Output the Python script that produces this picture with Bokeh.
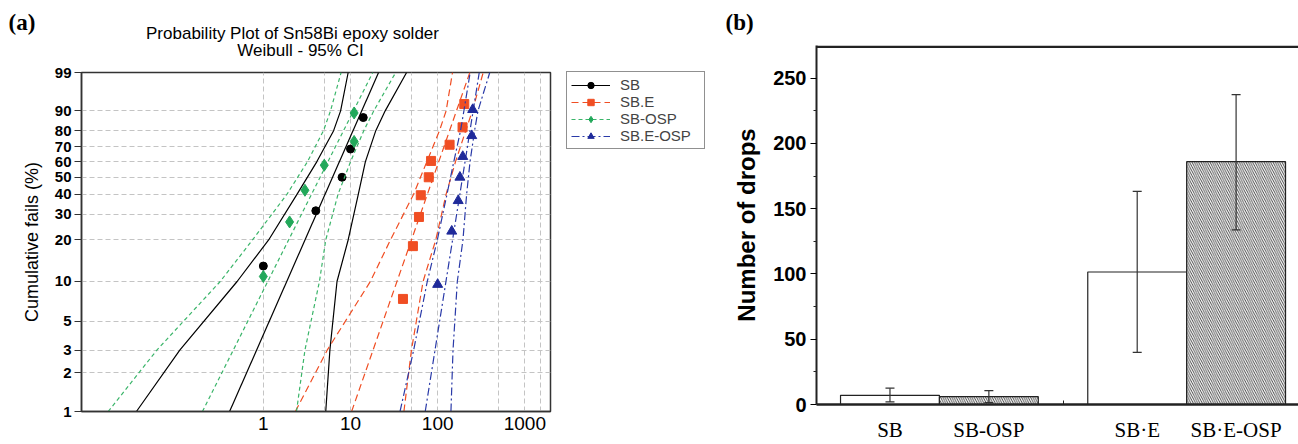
import math
from bokeh.plotting import figure
from bokeh.layouts import row, column
from bokeh.models import (FixedTicker, Legend, LegendItem, Whisker, TeeHead,
                          ColumnDataSource, Span, Range1d)
from bokeh.core.properties import value
from bokeh.embed import file_html
from bokeh.resources import INLINE

# ---------------- data: panel (a) Weibull probability plot ----------------
Y_TICKS = [1, 2, 3, 5, 10, 20, 30, 40, 50, 60, 70, 80, 90, 99]
Y_GRID = [2, 3, 5, 10, 20, 30, 40, 50, 60, 70, 80, 90]
X_TICKS = [1, 10, 100, 1000]
X_GRID = [1, 5, 10, 50, 100, 500, 1000, 1500]

SB_X = [1, 4, 8, 10, 14]
SB_P = [13.0, 31.5, 50.0, 68.5, 87.0]
SBE_X = [40, 52, 61, 64, 79, 84, 137, 193, 202]
SBE_P = [7.4, 18.1, 28.7, 39.4, 50.0, 60.6, 71.3, 81.9, 92.6]
SBOSP_X = [1, 2, 3, 5, 11, 11]
SBOSP_P = [10.9, 26.6, 42.2, 57.8, 73.4, 89.1]
SBEOSP_X = [100, 145, 172, 180, 194, 246, 252]
SBEOSP_P = [9.5, 23.0, 36.5, 50.0, 63.5, 77.0, 90.5]

# fitted lines (x at 1 % and 99 %) and 95 % CI bands (x at CI_P levels)
FIT_P = [1, 99]
SB_FIT = [0.41, 21.0]
SBE_FIT = [10.3, 234.0]
SBOSP_FIT = [0.2, 18.0]
SBEOSP_FIT = [72.0, 300.0]

CI_P = [1, 3, 10, 20, 40, 60, 80, 90, 99]
SB_LO = [0.035, 0.11, 0.50, 1.15, 2.44, 4.1, 6.4, 7.7, 9.4]
SB_HI = [5.2, 5.8, 7.0, 9.4, 12.3, 14.8, 19.5, 25.0, 44.0]
SBOSP_LO = [0.0166, 0.06, 0.32, 0.75, 1.87, 3.2, 4.9, 5.9, 7.8]
SBOSP_HI = [2.4, 3.0, 4.4, 5.2, 7.2, 10.0, 14.2, 18.5, 33.0]
SBE_LO = [2.33, 5.4, 16.9, 28.7, 53.0, 75.0, 105.0, 125.0, 148.0]
SBE_HI = [41.0, 50.0, 68.0, 95.0, 125.0, 160.0, 210.0, 250.0, 333.0]
SBEOSP_LO = [37.0, 53.0, 76.0, 99.0, 128.0, 153.0, 183.0, 200.0, 236.0]
SBEOSP_HI = [142.0, 150.0, 168.0, 195.0, 215.0, 235.0, 265.0, 290.0, 396.0]

# ---------------- data: panel (b) bar chart ----------------
BAR_LABELS = ["SB", "SB-OSP", "SB\u00b7E", "SB\u00b7E-OSP"]
BAR_POS = [1, 2, 3.5, 4.5]
BAR_MEAN = [7.0, 6.0, 101.5, 186.0]
BAR_LOW = [2.0, 1.5, 40.0, 133.7]
BAR_HIGH = [12.5, 10.7, 163.3, 237.3]
BAR_HATCH = [" ", "\\", " ", "\\"]


def wb(pcts):
    return [round(math.log(-math.log(1 - p / 100.0)), 6) for p in pcts]


SANS = "Liberation Sans"
SERIF = "Liberation Serif"
HA = 60   # height of the header strip above panel (a)
HB = 40   # height of the header strip above panel (b)


def no_align(f):
    try:
        f.frame_align = False
    except Exception:
        pass
    return f


def blank(width, height, yflip=True):
    h = figure(width=width, height=height, x_range=Range1d(0, width),
               y_range=Range1d(height, 0) if yflip else Range1d(0, height),
               x_axis_location=None, y_axis_location=None, min_border=0,
               output_backend="svg", toolbar_location=None)
    h.outline_line_color = None
    h.grid.visible = False
    return no_align(h)


# ---------------- header of panel (a) ----------------
ha = blank(715, HA)
ha.text(x=[8], y=[22], text=["(a)"], text_font=value(SERIF), text_font_style="bold",
        text_font_size="23px", text_align="left", text_baseline="middle", text_color="black")
ha.text(x=[292, 300], y=[33, 50],
        text=["Probability Plot of Sn58Bi epoxy solder", "Weibull - 95% CI"],
        text_font=value(SANS), text_font_size="17px", text_align="center",
        text_baseline="middle", text_color="black")

# ---------------- panel (a) ----------------
p1 = figure(width=553, height=444 - HA, x_axis_type="log",
            x_range=Range1d(0.0082, 1970), y_range=Range1d(wb([1])[0], wb([99])[0]),
            output_backend="svg", toolbar_location=None,
            min_border_left=81, min_border_right=3, min_border_top=72 - HA,
            min_border_bottom=33)
no_align(p1)
p1.outline_line_color = "#333333"
p1.outline_line_width = 1.5

p1.xgrid.ticker = FixedTicker(ticks=X_GRID)
p1.ygrid.ticker = FixedTicker(ticks=wb(Y_GRID))
p1.grid.grid_line_color = "#c4c4c4"
p1.grid.grid_line_dash = "5 3"
p1.grid.grid_line_width = 1

yt = wb(Y_TICKS)
p1.yaxis.ticker = FixedTicker(ticks=yt)
p1.yaxis.major_label_overrides = {v: str(t) for v, t in zip(yt, Y_TICKS)}
p1.yaxis.axis_label = "Cumulative fails (%)"
p1.yaxis.axis_label_text_font = SANS
p1.yaxis.axis_label_text_font_style = "normal"
p1.yaxis.axis_label_text_font_size = "18px"
p1.yaxis.axis_label_standoff = 10
p1.yaxis.major_label_text_font = SANS
p1.yaxis.major_label_text_font_style = "bold"
p1.yaxis.major_label_text_font_size = "15px"
p1.yaxis.major_tick_out = 7
p1.yaxis.major_tick_in = 0
p1.yaxis.minor_tick_line_color = None
p1.yaxis.major_label_standoff = 3

p1.xaxis.ticker = FixedTicker(ticks=X_TICKS)
p1.xaxis.major_label_overrides = {t: str(t) for t in X_TICKS}
p1.xaxis.major_label_text_font = SANS
p1.xaxis.major_label_text_font_size = "19px"
p1.xaxis.major_tick_out = 0
p1.xaxis.major_tick_in = 0
p1.xaxis.minor_tick_line_color = None
p1.xaxis.major_label_standoff = 5
for ax in (p1.xaxis, p1.yaxis):
    ax.axis_line_color = "#333333"
    ax.axis_line_width = 1.5
    ax.major_tick_line_color = "#333333"
    ax.major_label_text_color = "black"
    ax.axis_label_text_color = "black"

# legend lives in its own small canvas to the right of panel (a)
lg = blank(162, 444 - HA, yflip=False)

series = [
    ("SB", SB_X, SB_P, SB_FIT, SB_LO, SB_HI, "black", "black", "solid", "circle", 8),
    ("SB.E", SBE_X, SBE_P, SBE_FIT, SBE_LO, SBE_HI, "#f04e23", "#f04e23", "7 4", "square", 9),
    ("SB-OSP", SBOSP_X, SBOSP_P, SBOSP_FIT, SBOSP_LO, SBOSP_HI, "#3bb56a", "#22a85a", "4 3", "diamond", 12),
    ("SB.E-OSP", SBEOSP_X, SBEOSP_P, SBEOSP_FIT, SBEOSP_LO, SBEOSP_HI, "#2a3aa8", "#1f2a9a", "8 3 2 3", "triangle", 10),
]
items = []
for name, xs, ps, fit, lo, hi, lc, mc, dash, marker, size in series:
    p1.line(fit, wb(FIT_P), line_color=lc, line_dash=dash, line_width=1.2)
    p1.line(lo, wb(CI_P), line_color=lc, line_dash=dash, line_width=1.2)
    p1.line(hi, wb(CI_P), line_color=lc, line_dash=dash, line_width=1.2)
    p1.scatter(xs, wb(ps), marker=marker, size=size, fill_color=mc, line_color=mc)
    # legend proxies (kept outside the visible range of the legend canvas)
    lr = lg.line([-50, -40], [-50, -40], line_color=lc, line_dash=dash, line_width=1.2)
    sr = lg.scatter([-45], [-45], marker=marker, size=size, fill_color=mc, line_color=mc)
    items.append(LegendItem(label=name, renderers=[lr, sr]))

legend = Legend(items=items, location=(13, 295), border_line_color="#222222",
                border_line_width=1, label_text_font=SANS, label_text_font_size="15px",
                glyph_width=39, glyph_height=16, label_height=16, label_width=80, spacing=0,
                padding=4, margin=0, label_standoff=10, background_fill_alpha=1)
lg.add_layout(legend)

# ---------------- header of panel (b) ----------------
hb = blank(583, HB)
hb.text(x=[10], y=[22], text=["(b)"], text_font=value(SERIF), text_font_style="bold",
        text_font_size="23px", text_align="left", text_baseline="middle", text_color="black")

# ---------------- panel (b) ----------------
p2 = figure(width=583, height=444 - HB, x_range=Range1d(0.257, 5.131), y_range=Range1d(0, 275),
            output_backend="svg", toolbar_location=None,
            min_border_left=101, min_border_right=0, min_border_top=45 - HB,
            min_border_bottom=33)
no_align(p2)
p2.outline_line_color = None
p2.grid.visible = False

src = ColumnDataSource(dict(x=BAR_POS, top=BAR_MEAN, low=BAR_LOW, high=BAR_HIGH, hatch=BAR_HATCH))
p2.vbar(x="x", top="top", width=1.0, source=src, fill_color="white", line_color="#222222",
        line_width=1.2, hatch_pattern="hatch", hatch_color="#333333", hatch_scale=4.5,
        hatch_weight=0.9)
p2.add_layout(Whisker(source=src, base="x", lower="low", upper="high", line_color="#333333",
                      line_width=1.2, level="annotation",
                      upper_head=TeeHead(size=9, line_color="#333333", line_width=1.2),
                      lower_head=TeeHead(size=9, line_color="#333333", line_width=1.2)))
p2.add_layout(Span(location=274, dimension="width", line_color="#222222", line_width=2.5))

p2.yaxis.ticker = FixedTicker(ticks=[0, 50, 100, 150, 200, 250],
                              minor_ticks=[25, 75, 125, 175, 225])
p2.yaxis.axis_label = "Number of drops"
p2.yaxis.axis_label_text_font = SANS
p2.yaxis.axis_label_text_font_style = "bold"
p2.yaxis.axis_label_text_font_size = "24px"
p2.yaxis.axis_label_standoff = 10
p2.yaxis.major_label_text_font = SANS
p2.yaxis.major_label_text_font_style = "bold"
p2.yaxis.major_label_text_font_size = "20px"
p2.yaxis.major_tick_out = 6
p2.yaxis.major_tick_in = 0
p2.yaxis.minor_tick_out = 3
p2.yaxis.minor_tick_in = 0
p2.yaxis.major_label_standoff = 4
p2.yaxis.axis_line_width = 2

p2.xaxis.ticker = FixedTicker(ticks=BAR_POS, minor_ticks=[2.75])
p2.xaxis.major_label_overrides = {v: t for v, t in zip(BAR_POS, BAR_LABELS)}
p2.xaxis.major_label_text_font = SERIF
p2.xaxis.major_label_text_font_size = "21px"
p2.xaxis.major_tick_line_color = None
p2.xaxis.minor_tick_in = 4
p2.xaxis.minor_tick_out = 0
p2.xaxis.major_label_standoff = 7
p2.xaxis.axis_line_width = 2.5
for ax in (p2.xaxis, p2.yaxis):
    ax.axis_line_color = "#222222"
    ax.major_label_text_color = "black"
    ax.axis_label_text_color = "black"
    ax.minor_tick_line_color = "#222222"

layout = row(column(ha, row(p1, lg)), column(hb, p2))
open("out.html", "w").write(file_html(layout, INLINE))
